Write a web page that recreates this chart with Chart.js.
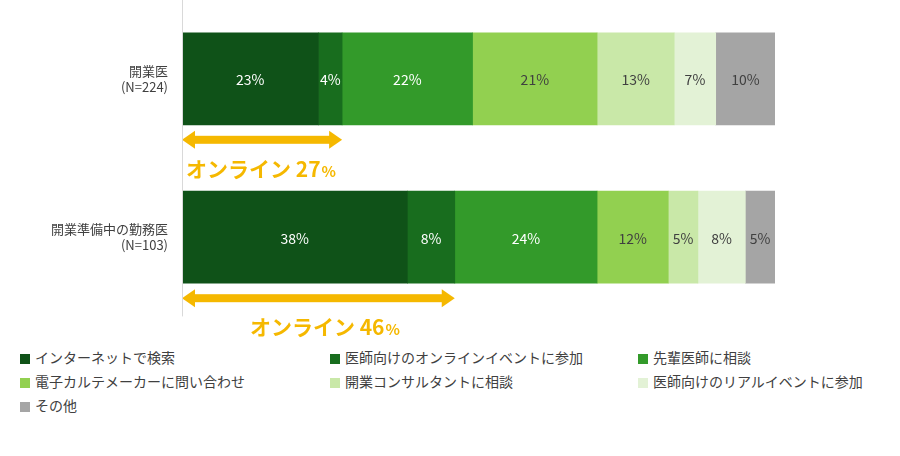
<!DOCTYPE html>
<html><head><meta charset="utf-8">
<script src="https://cdn.jsdelivr.net/npm/chart.js@4.4.0/dist/chart.umd.min.js"></script>
<style>
body{margin:0;background:#fff;font-family:"Noto Sans CJK JP",sans-serif;}
#wrap{position:absolute;left:0;top:-22px;width:900px;height:360px;}
#legend{position:absolute;left:20px;top:347px;width:880px;}
.it{position:absolute;font-size:14px;color:#404040;white-space:nowrap;}
.it i{display:inline-block;width:10px;height:10px;margin-right:5px;vertical-align:-1px;}
</style></head><body>
<div id="wrap"><canvas id="c"></canvas></div>
<div id="legend"></div>
<script>
// Declare data
const categories = [['開業医', '(N=224)'], ['開業準備中の勤務医', '(N=103)']];
const seriesNames = ['インターネットで検索', '医師向けのオンラインイベントに参加', '先輩医師に相談',
  '電子カルテメーカーに問い合わせ', '開業コンサルタントに相談', '医師向けのリアルイベントに参加', 'その他'];
const values = [
  [23, 38], [4, 8], [22, 24], [21, 12], [13, 5], [7, 8], [10, 5]
];
const onlineTotals = [27, 46];
const colors = ['#0f5218', '#186d1e', '#339a2a', '#92d050', '#c9e8a8', '#e3f2d6', '#a5a5a5'];
const labelColors = ['#fff', '#fff', '#fff', '#404040', '#404040', '#404040', '#404040'];

const gold = '#f5b800';
const annot = {
  id: 'annot',
  afterDatasetsDraw(chart) {
    const c = chart.ctx, x = chart.scales.x, y = chart.scales.y;
    // value labels
    c.save();
    c.font = '14px "Noto Sans CJK JP"';
    c.textAlign = 'center'; c.textBaseline = 'middle';
    chart.data.datasets.forEach((ds, i) => {
      chart.getDatasetMeta(i).data.forEach((bar, j) => {
        c.fillStyle = labelColors[i];
        c.fillText(ds.data[j] + '%', (bar.x + bar.base) / 2, bar.y + 1);
      });
    });
    // online arrows
    onlineTotals.forEach((v, j) => {
      const x0 = x.getPixelForValue(0), x1 = x.getPixelForValue(v);
      const ay = y.getPixelForValue(j) + 61;
      c.fillStyle = gold;
      c.fillRect(x0 + 10, ay - 4, x1 - x0 - 20, 8);
      c.beginPath(); c.moveTo(x0, ay); c.lineTo(x0 + 13, ay - 9); c.lineTo(x0 + 13, ay + 9); c.fill();
      c.beginPath(); c.moveTo(x1, ay); c.lineTo(x1 - 13, ay - 9); c.lineTo(x1 - 13, ay + 9); c.fill();
      const t1 = 'オンライン ' + v, t2 = '%';
      c.font = 'bold 21px "Noto Sans CJK JP"';
      const w1 = c.measureText(t1).width;
      c.font = 'bold 15px "Noto Sans CJK JP"';
      const w2 = c.measureText(t2).width;
      let tx = j === 0 ? x0 + 4 : (x0 + x1) / 2 - (w1 + w2) / 2 + 6;
      c.textAlign = 'left'; c.textBaseline = 'alphabetic';
      c.font = 'bold 21px "Noto Sans CJK JP"';
      c.fillText(t1, tx, ay + 37);
      c.font = 'bold 15px "Noto Sans CJK JP"';
      c.fillText(t2, tx + w1 + 1, ay + 37);
    });
    // axis line
    c.strokeStyle = '#d9d9d9'; c.lineWidth = 1;
    c.beginPath(); c.moveTo(x.left + 0.5, chart.chartArea.top); c.lineTo(x.left + 0.5, chart.chartArea.bottom); c.stroke();
    c.restore();
  }
};

new Chart(document.getElementById('c'), {
  type: 'bar',
  data: {
    labels: categories,
    datasets: seriesNames.map((n, i) => ({
      label: n, data: values[i], backgroundColor: colors[i], barThickness: 92
    }))
  },
  options: {
    indexAxis: 'y',
    responsive: true,
    maintainAspectRatio: false,
    animation: false,
    layout: { padding: { top: 0, right: 125, bottom: 16, left: 0 } },
    plugins: { legend: { display: false }, tooltip: { enabled: false } },
    scales: {
      x: { stacked: true, min: 0, max: 100, display: false },
      y: {
        stacked: true,
        grid: { display: false },
        border: { display: false },
        ticks: { color: '#404040', font: { size: 13, family: '"Noto Sans CJK JP"' }, padding: 6 },
        afterFit(s) { s.width = 182; }
      }
    }
  },
  plugins: [annot]
});

const lg = document.getElementById('legend');
const colX = [0, 310, 618];
seriesNames.forEach((n, i) => {
  const d = document.createElement('div');
  d.className = 'it';
  d.style.left = colX[i % 3] + 'px';
  d.style.top = Math.floor(i / 3) * 24 + 'px';
  d.innerHTML = '<i style="background:' + colors[i] + '"></i>' + n;
  lg.appendChild(d);
});
</script>
</body></html>
